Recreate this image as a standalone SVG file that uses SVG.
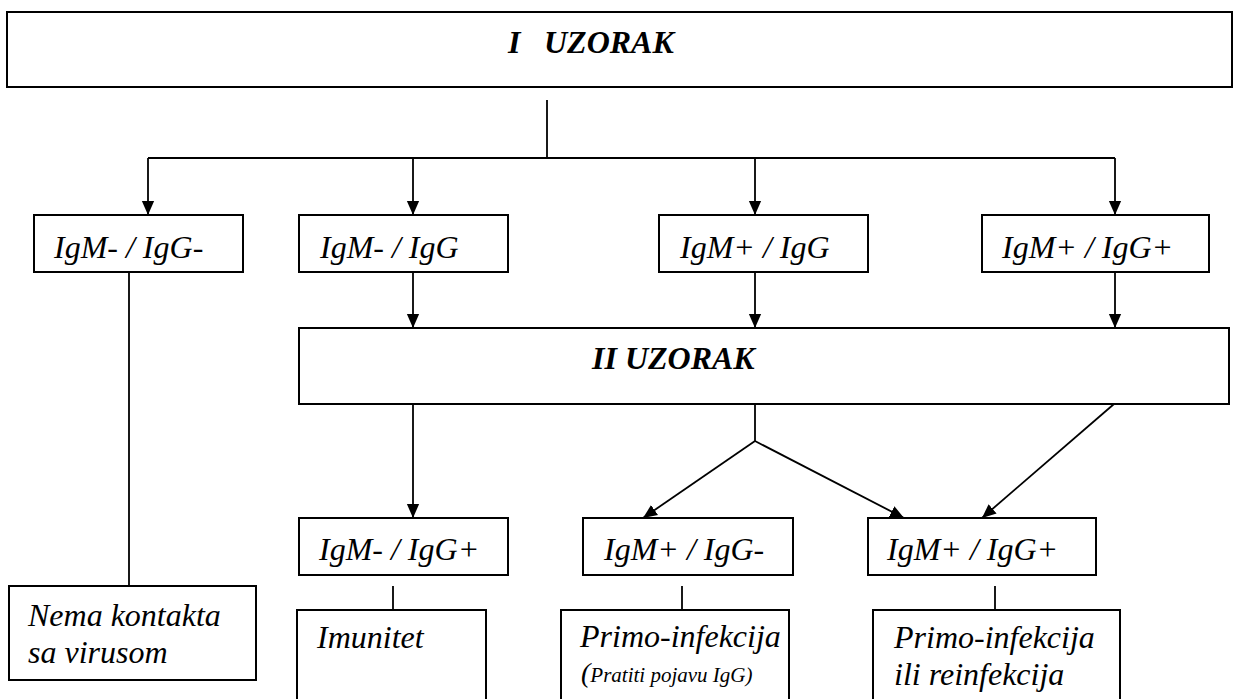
<svg xmlns="http://www.w3.org/2000/svg" width="1239" height="699" viewBox="0 0 1239 699">
<defs>
<marker id="ah" markerWidth="14" markerHeight="16" refX="16" refY="7" orient="auto" markerUnits="userSpaceOnUse" viewBox="0 0 16 14">
<path d="M0,0 L16,7 L0,14 Z" fill="#000"/>
</marker>
<style>
.box{fill:#fff;stroke:#000;stroke-width:2}
.ln{fill:none;stroke:#000;stroke-width:1.8}
text{font-family:'Liberation Serif','Times New Roman','DejaVu Serif',serif;font-style:italic;font-size:32px;fill:#000}
.b{font-weight:bold}
.s{font-size:21px}
.p{font-size:28px}
</style>
</defs>
<rect width="1239" height="699" fill="#fff"/>
<g id="connectors">
<line class="ln" x1="547" y1="100" x2="547" y2="158"/>
<line class="ln" x1="148" y1="158" x2="1115" y2="158"/>
<line class="ln" x1="148" y1="158" x2="148" y2="215" marker-end="url(#ah)"/>
<line class="ln" x1="413" y1="158" x2="413" y2="215" marker-end="url(#ah)"/>
<line class="ln" x1="755" y1="158" x2="755" y2="215" marker-end="url(#ah)"/>
<line class="ln" x1="1115" y1="158" x2="1115" y2="215" marker-end="url(#ah)"/>
<line class="ln" x1="129" y1="272" x2="129" y2="586"/>
<line class="ln" x1="413" y1="272" x2="413" y2="328" marker-end="url(#ah)"/>
<line class="ln" x1="755" y1="272" x2="755" y2="328" marker-end="url(#ah)"/>
<line class="ln" x1="1115" y1="272" x2="1115" y2="328" marker-end="url(#ah)"/>
<line class="ln" x1="413" y1="404" x2="413" y2="518" marker-end="url(#ah)"/>
<line class="ln" x1="755" y1="404" x2="755" y2="441"/>
<line class="ln" x1="755" y1="441" x2="643" y2="518" marker-end="url(#ah)"/>
<line class="ln" x1="755" y1="441" x2="904" y2="518" marker-end="url(#ah)"/>
<line class="ln" x1="1114" y1="404" x2="982" y2="518" marker-end="url(#ah)"/>
<line class="ln" x1="393" y1="586" x2="393" y2="610"/>
<line class="ln" x1="682" y1="586" x2="682" y2="610"/>
<line class="ln" x1="995" y1="586" x2="995" y2="610"/>
</g>
<g id="uzorak1">
<rect class="box" x="7" y="12" width="1225" height="75"/>
<text class="b" x="508" y="53" font-family="Liberation Serif">I<tspan x="544">UZORAK</tspan></text>
</g>
<g id="r1a">
<rect class="box" x="34" y="215" width="209" height="57"/>
<text x="54" y="258" font-family="Liberation Serif">IgM- / IgG-</text>
</g>
<g id="r1b">
<rect class="box" x="299" y="215" width="209" height="57"/>
<text x="320" y="258" font-family="Liberation Serif">IgM- / IgG</text>
</g>
<g id="r1c">
<rect class="box" x="659" y="215" width="209" height="57"/>
<text x="680" y="258" font-family="Liberation Serif">IgM+ / IgG</text>
</g>
<g id="r1d">
<rect class="box" x="982" y="215" width="227" height="57"/>
<text x="1002" y="258" font-family="Liberation Serif">IgM+ / IgG+</text>
</g>
<g id="uzorak2">
<rect class="box" x="299" y="328" width="930" height="76"/>
<text class="b" x="592" y="369" font-family="Liberation Serif">II UZORAK</text>
</g>
<g id="r3a">
<rect class="box" x="299" y="518" width="209" height="57"/>
<text x="319" y="560" font-family="Liberation Serif">IgM- / IgG+</text>
</g>
<g id="r3b">
<rect class="box" x="583" y="518" width="210" height="57"/>
<text x="604" y="560" font-family="Liberation Serif">IgM+ / IgG-</text>
</g>
<g id="r3c">
<rect class="box" x="868" y="518" width="228" height="57"/>
<text x="887" y="560" font-family="Liberation Serif">IgM+ / IgG+</text>
</g>
<g id="nema">
<rect class="box" x="9" y="586" width="247" height="94"/>
<text x="28" y="626" font-family="Liberation Serif">Nema kontakta</text>
<text x="28" y="663" font-family="Liberation Serif">sa virusom</text>
</g>
<g id="imunitet">
<rect class="box" x="297" y="610" width="189" height="110"/>
<text x="317" y="648" font-family="Liberation Serif">Imunitet</text>
</g>
<g id="primo">
<rect class="box" x="561" y="610" width="228" height="110"/>
<text x="580" y="647" font-family="Liberation Serif">Primo-infekcija</text>
<text class="p" x="581" y="682" font-family="Liberation Serif">(<tspan class="s">Pratiti pojavu IgG)</tspan></text>
</g>
<g id="reinf">
<rect class="box" x="873" y="610" width="247" height="110"/>
<text x="894" y="648" font-family="Liberation Serif">Primo-infekcija</text>
<text x="894" y="685" font-family="Liberation Serif">ili reinfekcija</text>
</g>
</svg>
